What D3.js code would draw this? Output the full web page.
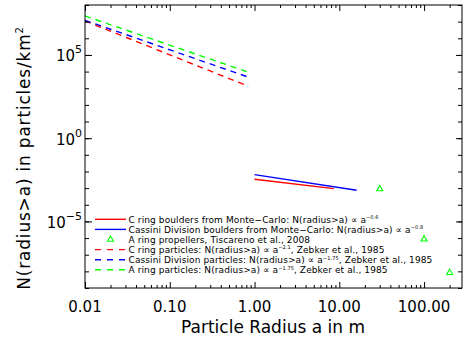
<!DOCTYPE html>
<html>
<head>
<meta charset="utf-8">
<script src="https://cdn.jsdelivr.net/npm/d3@7"></script>
<style>
  body { margin: 0; background: #fff; }
  text { font-family: "DejaVu Sans", sans-serif; fill: #000; }
</style>
</head>
<body>
<div id="chart"></div>
<script>
// power-law lines, given by their two end points (radius in m, N per km^2)
const dashRadius = [0.01, 0.85]
const cRingParticles = [1.1e7, 1.3e3]
const cdParticles = [1.2e7, 4.6e3]
const aRingParticles = [2.2e7, 9.1e3]

const cRingBoulderRadius = [1, 8.6]
const cRingBoulders = [3.4e-3, 9.3e-4]
const cdBoulderRadius = [1, 16]
const cdBoulders = [6.5e-3, 7.4e-4]

// propellers (triangles)
const propellerRadius = [30, 100, 200]
const propellers = [8.9e-4, 8.5e-7, 8.3e-9]

const xTicks = [0.01, 0.1, 1, 10, 100]
const xTickLabels = ["0.01", "0.10", "1.00", "10.00", "100.00"]
const yTicks = [1e5, 1, 1e-5]
const yTickExp = ["5", "0", "\u22125"]

const legendText = [
    ["C ring boulders from Monte\u2212Carlo: N(radius>a) \u221d a", "\u22120.6", ""],
    ["Cassini Division boulders from Monte\u2212Carlo: N(radius>a) \u221d a", "\u22120.8", ""],
    ["A ring propellers, Tiscareno et al., 2008", "", ""],
    ["C ring particles: N(radius>a) \u221d a", "\u22122.1", ", Zebker et al., 1985"],
    ["Cassini Division particles: N(radius>a) \u221d a", "\u22121.75", ", Zebker et al., 1985"],
    ["A ring particles: N(radius>a) \u221d a", "\u22121.75", ", Zebker et al., 1985"]
]

const mainApp = () => {
    const width = 465
    const height = 340
    const margin = { top: 5, right: 3, bottom: 52, left: 85 }

    const svg = d3.select('#chart').append('svg')
        .attr('width', width)
        .attr('height', height)

    const x = d3.scaleLog()
        .domain([0.01, 280])
        .range([margin.left, width - margin.right])

    const y = d3.scaleLog()
        .domain([1e-9, 1e8])
        .range([height - margin.bottom, margin.top])

    const red = '#ff0000', blue = '#0000ff', green = '#00ff00'

    const lines = [
        { r: dashRadius, n: cRingParticles, color: red, dash: '6,5' },
        { r: dashRadius, n: cdParticles, color: blue, dash: '6,5' },
        { r: dashRadius, n: aRingParticles, color: green, dash: '6,5' },
        { r: cRingBoulderRadius, n: cRingBoulders, color: red, dash: null },
        { r: cdBoulderRadius, n: cdBoulders, color: blue, dash: null }
    ]

    const line = d3.line().x(d => x(d[0])).y(d => y(d[1]))

    svg.append('g').selectAll('path')
        .data(lines)
        .enter().append('path')
        .attr('d', d => line(d.r.map((r, i) => [r, d.n[i]])))
        .attr('fill', 'none')
        .attr('stroke', d => d.color)
        .attr('stroke-width', 1.4)
        .attr('stroke-dasharray', d => d.dash)

    const tri = d3.symbol().type(d3.symbolTriangle).size(16)
    svg.append('g').selectAll('path')
        .data(propellerRadius)
        .enter().append('path')
        .attr('d', tri)
        .attr('transform', (d, i) => `translate(${x(d)},${y(propellers[i])})`)
        .attr('fill', 'none')
        .attr('stroke', green)
        .attr('stroke-width', 1.1)

    // axes: ticks point inward
    const xMinor = []
    for (let e = -2; e <= 2; e++) {
        for (let k = 2; k <= 9; k++) {
            const v = k * Math.pow(10, e)
            if (v <= 280) xMinor.push(v)
        }
    }
    const yMinor = d3.range(-9, 9).map(e => Math.pow(10, e))

    const bottom = height - margin.bottom
    const right = width - margin.right
    const addAxis = (axis, tr) => {
        const g = svg.append('g').attr('transform', tr).call(axis)
        g.select('.domain').remove()
        g.selectAll('line').attr('stroke', '#000')
        return g
    }
    addAxis(d3.axisBottom(x).tickValues(xMinor).tickSize(-3).tickFormat(''), `translate(0,${bottom})`)
    addAxis(d3.axisBottom(x).tickValues(xTicks).tickSize(-6).tickFormat(''), `translate(0,${bottom})`)
    addAxis(d3.axisTop(x).tickValues(xMinor).tickSize(-3).tickFormat(''), `translate(0,${margin.top})`)
    addAxis(d3.axisTop(x).tickValues(xTicks).tickSize(-6).tickFormat(''), `translate(0,${margin.top})`)
    addAxis(d3.axisLeft(y).tickValues(yMinor).tickSize(-4).tickFormat(''), `translate(${margin.left},0)`)
    addAxis(d3.axisLeft(y).tickValues(yTicks).tickSize(-7).tickFormat(''), `translate(${margin.left},0)`)
    addAxis(d3.axisRight(y).tickValues(yMinor).tickSize(-4).tickFormat(''), `translate(${right},0)`)
    addAxis(d3.axisRight(y).tickValues(yTicks).tickSize(-6).tickFormat(''), `translate(${right},0)`)

    svg.append('rect')
        .attr('x', margin.left).attr('y', margin.top)
        .attr('width', right - margin.left).attr('height', bottom - margin.top)
        .attr('fill', 'none').attr('stroke', '#000').attr('stroke-width', 1)

    // tick labels
    svg.append('g').selectAll('text')
        .data(xTicks)
        .enter().append('text')
        .attr('x', d => x(d))
        .attr('y', 312)
        .attr('text-anchor', 'middle')
        .attr('font-size', 15)
        .text((d, i) => xTickLabels[i])

    const yl = svg.append('g').selectAll('text')
        .data(yTicks)
        .enter().append('text')
        .attr('x', 82)
        .attr('y', d => y(d) + 6.5)
        .attr('text-anchor', 'end')
        .attr('font-size', 15)
    yl.append('tspan').text('10')
    yl.append('tspan').attr('dy', -8).attr('font-size', 11).text((d, i) => yTickExp[i])

    // axis titles
    svg.append('text')
        .attr('x', 273).attr('y', 333)
        .attr('text-anchor', 'middle')
        .attr('font-size', 17)
        .text('Particle Radius a in m')

    const yt = svg.append('text')
        .attr('transform', 'translate(30,158) rotate(-90)')
        .attr('text-anchor', 'middle')
        .attr('font-size', 17)
        .attr('letter-spacing', 0.8)
    yt.append('tspan').text('N(radius>a) in particles/km')
    yt.append('tspan').attr('dy', -7).attr('font-size', 10).text('2')

    // legend
    const legend = svg.append('g')
    const legendStyle = [
        { color: red, dash: null }, { color: blue, dash: null }, { color: green, tri: true },
        { color: red, dash: '6,6' }, { color: blue, dash: '6,6' }, { color: green, dash: '6,6' }
    ]
    legendText.forEach((t, i) => {
        const ly = 219.3 + i * 10.1
        const s = legendStyle[i]
        if (s.tri) {
            legend.append('path').attr('d', tri)
                .attr('transform', `translate(110.5,${ly})`)
                .attr('fill', 'none').attr('stroke', s.color).attr('stroke-width', 1.1)
        } else {
            legend.append('line')
                .attr('x1', 95).attr('x2', 126).attr('y1', ly).attr('y2', ly)
                .attr('stroke', s.color).attr('stroke-width', 1.4)
                .attr('stroke-dasharray', s.dash)
        }
        const tx = legend.append('text')
            .attr('x', 128.5).attr('y', ly + 3.3)
            .attr('font-size', 9)
            .attr('letter-spacing', 0.1)
        tx.append('tspan').text(t[0])
        if (t[1]) {
            tx.append('tspan').attr('dy', -3.5).attr('font-size', 5).text(t[1])
            tx.append('tspan').attr('dy', 3.5).text(t[2])
        }
    })
}

mainApp()
</script>
</body>
</html>
